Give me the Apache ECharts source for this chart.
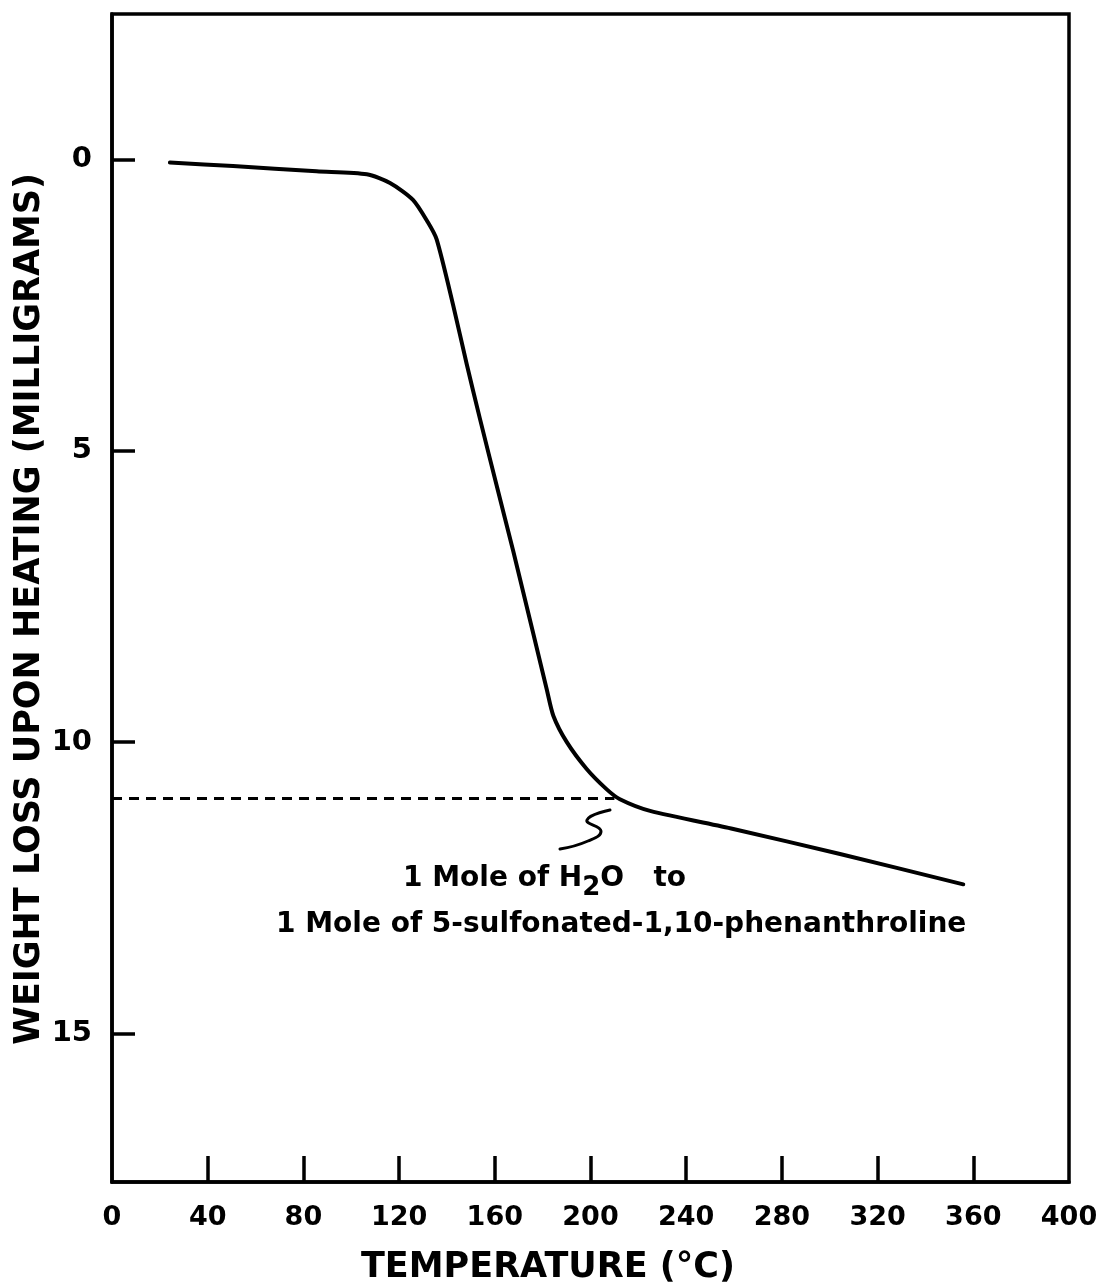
<!DOCTYPE html>
<html>
<head>
<meta charset="utf-8">
<script src="https://cdn.jsdelivr.net/npm/echarts@6/dist/echarts.min.js"></script>
<style>
html,body{margin:0;padding:0;background:#fff;}
#chart{width:1112px;height:1286px;}
</style>
</head>
<body>
<div id="chart"></div>
<script>
// Temperature (°C) vs weight loss (mg)
var temperature = [24.2, 50.6, 85.5, 106.5, 116.2, 125.8, 132.1, 135.7, 142.6, 148.2, 153.8, 160.8, 167.7, 176.1, 181.7, 184.5, 190.1, 198.4, 206.8, 212.3, 224.9, 259.7, 304.3, 355.8];
var weightLoss  = [0.05, 0.11, 0.20, 0.25, 0.40, 0.69, 1.08, 1.37, 2.50, 3.50, 4.45, 5.60, 6.72, 8.14, 9.09, 9.55, 10.00, 10.46, 10.81, 10.98, 11.18, 11.49, 11.92, 12.44];
var xTicks = [0, 40, 80, 120, 160, 200, 240, 280, 320, 360, 400];
var yTicks = [0, 5, 10, 15];
var hydrateLevel = 10.96;     // 1 mole H2O per mole
var hydrateLineEnd = 210;     // °C where dashed line meets the curve

var FONT = 'DejaVu Sans';
var chart = echarts.init(document.getElementById('chart'), null, {renderer: 'canvas'});

var curve = temperature.map(function (t, i) { return [t, weightLoss[i]]; });

chart.setOption({
  animation: false,
  backgroundColor: '#fff',
  grid: {left: 112, right: 43, top: 14, bottom: 104, show: true, borderColor: '#000', borderWidth: 3.5, backgroundColor: 'transparent'},
  xAxis: {
    type: 'value', min: 0, max: 400, interval: 40,
    axisLine: {show: true, onZero: false, lineStyle: {color: '#000', width: 3.5}},
    axisTick: {show: true, inside: true, length: 26, lineStyle: {color: '#000', width: 3.5}, customValues: xTicks.slice(1, -1)},
    axisLabel: {color: '#000', fontFamily: FONT, fontWeight: 'bold', fontSize: 27, margin: 22, customValues: xTicks},
    splitLine: {show: false}
  },
  yAxis: {
    type: 'value', inverse: true, min: -2.5, max: 17.55,
    axisLine: {show: true, onZero: false, lineStyle: {color: '#000', width: 3.5}},
    axisTick: {show: true, inside: true, length: 23, lineStyle: {color: '#000', width: 3.5}, customValues: yTicks},
    axisLabel: {color: '#000', fontFamily: FONT, fontWeight: 'bold', fontSize: 29, margin: 20, customValues: yTicks},
    splitLine: {show: false}
  },
  series: [{
    type: 'line',
    data: curve,
    showSymbol: false,
    smooth: 0.25,
    lineStyle: {color: '#000', width: 4, cap: 'round', join: 'round'},
    markLine: {
      silent: true,
      symbol: ['none', 'none'],
      label: {show: false},
      lineStyle: {color: '#000', width: 3, type: [10, 7]},
      data: [[{coord: [0, hydrateLevel]}, {coord: [hydrateLineEnd, hydrateLevel]}]]
    }
  }],
  graphic: [
    {
      type: 'text', left: 12, top: 173, rotation: Math.PI / 2,
      style: {text: 'WEIGHT LOSS UPON HEATING (MILLIGRAMS)', fill: '#000', font: 'bold 35px "DejaVu Sans"'}
    },
    {
      type: 'text', x: 548, y: 1268,
      style: {text: 'TEMPERATURE (°C)', fill: '#000', font: 'bold 35px "DejaVu Sans"', align: 'center', verticalAlign: 'middle'}
    },
    {
      type: 'text', x: 403, y: 865,
      style: {
        text: '{n|1 Mole of H}{s|2}{n|O   to}',
        verticalAlign: 'top', align: 'left',
        rich: {
          n: {fontFamily: FONT, fontWeight: 'bold', fontSize: 28, lineHeight: 30, verticalAlign: 'top', fill: '#000'},
          s: {fontFamily: FONT, fontWeight: 'bold', fontSize: 26, lineHeight: 28, padding: [10, 0, 0, 0], verticalAlign: 'top', fill: '#000'}
        }
      }
    },
    {
      type: 'text', x: 276, y: 925,
      style: {text: '1 Mole of 5-sulfonated-1,10-phenanthroline', fill: '#000', font: 'bold 28px "DejaVu Sans"', align: 'left', verticalAlign: 'middle'}
    },
    {
      type: 'polyline',
      shape: {points: [[610, 810], [587, 820], [601, 831], [588, 841], [560, 849]], smooth: 0.5},
      style: {stroke: '#000', lineWidth: 3, fill: null, lineCap: 'round'}
    }
  ]
});
</script>
</body>
</html>
